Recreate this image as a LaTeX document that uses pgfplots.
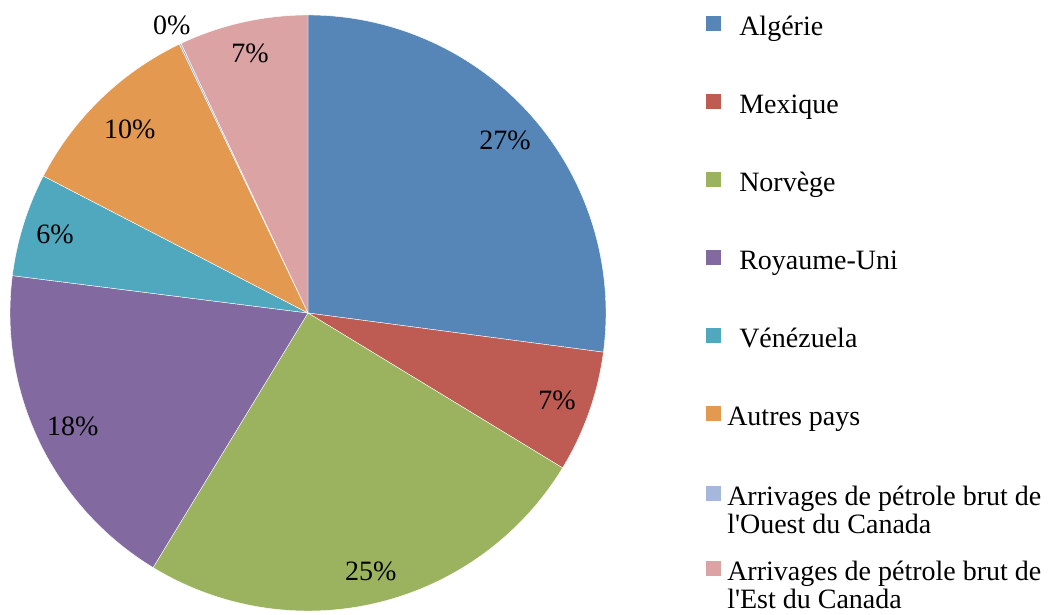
\documentclass[border=0pt]{standalone}
\usepackage{fontspec}
\setmainfont{Liberation Serif}[Ligatures=TeXOff]
\usepackage{pgfplots}
\usepackage{pgfplotstable}
\pgfplotsset{compat=1.18}
\definecolor{cA}{HTML}{5686B8}
\definecolor{cB}{HTML}{BE5B53}
\definecolor{cC}{HTML}{9BB35F}
\definecolor{cD}{HTML}{826AA0}
\definecolor{cE}{HTML}{4FA8BD}
\definecolor{cF}{HTML}{E3994F}
\definecolor{cG}{HTML}{A5B8DC}
\definecolor{cH}{HTML}{DBA3A3}
% share (%), label radius (px), colour
\pgfplotstableread{
val lr col
27.1 262 cA
6.6 264 cB
25.0 266 cC
18.3 261 cD
5.6 265 cE
10.3 256 cF
0.1 318 cG
7.0 266 cH
}\pietable
\begin{document}
\begin{tikzpicture}
\begin{axis}[hide axis, x=0.75pt, y=0.75pt,
  xmin=-308, xmax=741, ymin=-301, ymax=313, clip=false]
\pgfplotsextra{
  \xdef\cum{0}
  \foreach \i in {0,...,7}{
    \pgfplotstablegetelem{\i}{val}\of\pietable \let\v\pgfplotsretval
    \pgfplotstablegetelem{\i}{lr}\of\pietable \let\lr\pgfplotsretval
    \pgfplotstablegetelem{\i}{col}\of\pietable \let\slicecol\pgfplotsretval
    \pgfmathsetmacro\a{3.6*\cum}
    \pgfmathsetmacro\b{3.6*(\cum+\v)}
    \pgfmathsetmacro\m{(\a+\b)/2}
    \fill[\slicecol, draw=white, line width=0.3pt] (axis cs:0,0) -- (axis cs:{298*sin(\a)},{298*cos(\a)})
      arc[start angle={90-\a}, end angle={90-\b}, radius=223.5pt] -- cycle;
    \pgfmathtruncatemacro\r{round(\v)}
    \node[font=\fontsize{21}{25}\selectfont] at (axis cs:{\lr*sin(\m)},{\lr*cos(\m)}) {\r\%};
    \pgfmathsetmacro\n{\cum+\v}\xdef\cum{\n}
  }
  \foreach \yy/\cc/\tx/\lt in {24/cA/739/Algérie, 102/cB/739/Mexique, 180/cC/739/Norvège,
     258/cD/739/Royaume-Uni, 336/cE/739/Vénézuela, 414/cF/727/Autres pays,
     494/cG/727/Arrivages de pétrole brut de, 569/cH/727/Arrivages de pétrole brut de}{
    \fill[\cc] (axis cs:398,{313-\yy-7.5}) rectangle (axis cs:413,{313-\yy+7.5});
    \node[anchor=base west, inner sep=0pt, font=\fontsize{21}{25}\selectfont] at (axis cs:{\tx-308},{313-\yy-12}) {\lt};
  }
  \node[anchor=base west, inner sep=0pt, font=\fontsize{21}{25}\selectfont] at (axis cs:419,{313-534}) {l'Ouest du Canada};
  \node[anchor=base west, inner sep=0pt, font=\fontsize{21}{25}\selectfont] at (axis cs:419,{313-609}) {l'Est du Canada};
}
\end{axis}
\pgfresetboundingbox
\useasboundingbox (current axis.south west) rectangle (current axis.north east);
\end{tikzpicture}
\end{document}
